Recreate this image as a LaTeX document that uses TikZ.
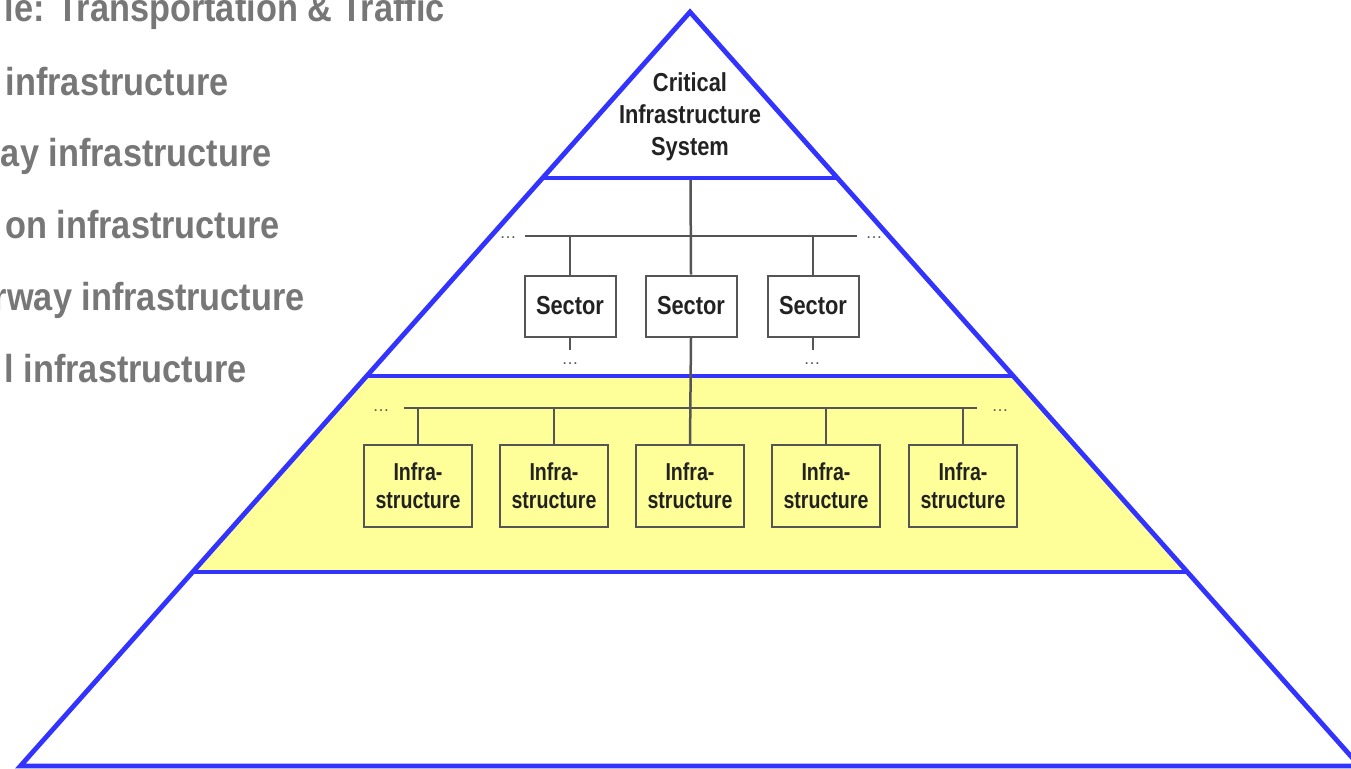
\documentclass[tikz,border=0pt]{standalone}
\usepackage{fontspec}
\setmainfont{Liberation Sans}
\newfontfamily\narrowbf{Liberation Sans Bold}[FakeStretch=0.84]
\newfontfamily\infrabf{Liberation Sans Bold}[FakeStretch=0.80]
\newfontfamily\leftbf{Liberation Sans Bold}[FakeStretch=0.88]
\definecolor{pblue}{RGB}{51,51,255}
\definecolor{pyellow}{RGB}{255,255,153}
\definecolor{lgray}{RGB}{119,119,119}
\definecolor{bgray}{RGB}{85,85,85}
\definecolor{tdark}{RGB}{34,34,34}
\begin{document}
\begin{tikzpicture}[x=1pt,y=-1pt,
  layerline/.style={draw=pblue,line width=4.8pt},
  bus/.style={draw=bgray,line width=2.5pt},
  sectorbox/.style={draw=bgray,line width=2pt,fill=white,minimum width=91pt,minimum height=61pt,inner sep=0pt,
    font=\narrowbf\fontsize{26}{32}\selectfont,text=tdark},
  infrabox/.style={draw=bgray,line width=2pt,fill=pyellow,minimum width=108pt,minimum height=82pt,inner sep=0pt,
    align=center,font=\infrabf\fontsize{24.5}{28}\selectfont,text=tdark},
  dots/.style={inner sep=0pt,font=\fontsize{17}{17}\selectfont,text=bgray},
  lefttext/.style={anchor=base east,inner sep=0pt,font=\leftbf\fontsize{39}{39}\selectfont,text=lgray}]
\useasboundingbox (0,0) rectangle (1351,768);
% pyramid
\fill[pyellow] (366.8,376) -- (1013.2,376) -- (1187.3,572) -- (192.7,572) -- cycle;
\draw[layerline,line join=miter] (690,12) -- (1359.6,766) -- (20.4,766) -- cycle;
\draw[layerline] (542.6,178) -- (837.4,178);
\draw[layerline] (366.8,376) -- (1013.2,376);
\draw[layerline] (192.7,572) -- (1187.3,572);
% left texts
\node[lefttext] (t1) at (445,22) {le: Transportation \& Traffic};
\node[lefttext] (t2) at (229,95) {infrastructure};
\node[lefttext] (t3) at (272,166) {ay infrastructure};
\node[lefttext] (t4) at (280,238) {on infrastructure};
\node[lefttext] (t5) at (305,310) {rway infrastructure};
\node[lefttext] (t6) at (247,382) {l infrastructure};
% top system
\node[anchor=base,align=center,inner sep=0pt,font=\narrowbf\fontsize{26}{32}\selectfont,text=tdark] (sys) at (690,155) {Critical\\Infrastructure\\System};
% sectors
\node[sectorbox] (sec1) at (570,306) {Sector};
\node[sectorbox] (sec2) at (691,306) {Sector};
\node[sectorbox] (sec3) at (813,306) {Sector};
% infrastructures
\node[infrabox] (inf1) at (418,486) {Infra-\\structure};
\node[infrabox] (inf2) at (554,486) {Infra-\\structure};
\node[infrabox] (inf3) at (690,486) {Infra-\\structure};
\node[infrabox] (inf4) at (826,486) {Infra-\\structure};
\node[infrabox] (inf5) at (963,486) {Infra-\\structure};
% bus coordinates
\coordinate (top) at (690.5,180);
\coordinate (sbL) at (525,236);
\coordinate (sbR) at (857,236);
\coordinate (ibL) at (404,408);
\coordinate (ibR) at (977,408);
\coordinate (st1) at (570,350);
\coordinate (st3) at (813,350);
% connectors
\draw[bus] (top) -- (sec2.north);
\draw[bus] (sbL) -- (sbR);
\draw[bus] (sec1.north) -- (sec1.north |- sbL);
\draw[bus] (sec3.north) -- (sec3.north |- sbL);
\draw[bus] (sec2.south) -- (inf3.north);
\draw[bus] (sec1.south) -- (st1);
\draw[bus] (sec3.south) -- (st3);
\draw[bus] (ibL) -- (ibR);
\foreach \i in {1,2,4,5} {\draw[bus] (inf\i.north) -- (inf\i.north |- ibL);}
% dots
\node[dots] (d1) at (570,364) {…};
\node[dots] (d2) at (812,364) {…};
\node[dots] (d3) at (508,238) {…};
\node[dots] (d4) at (874,238) {…};
\node[dots] (d5) at (381,411) {…};
\node[dots] (d6) at (1000,411) {…};
\end{tikzpicture}
\end{document}
